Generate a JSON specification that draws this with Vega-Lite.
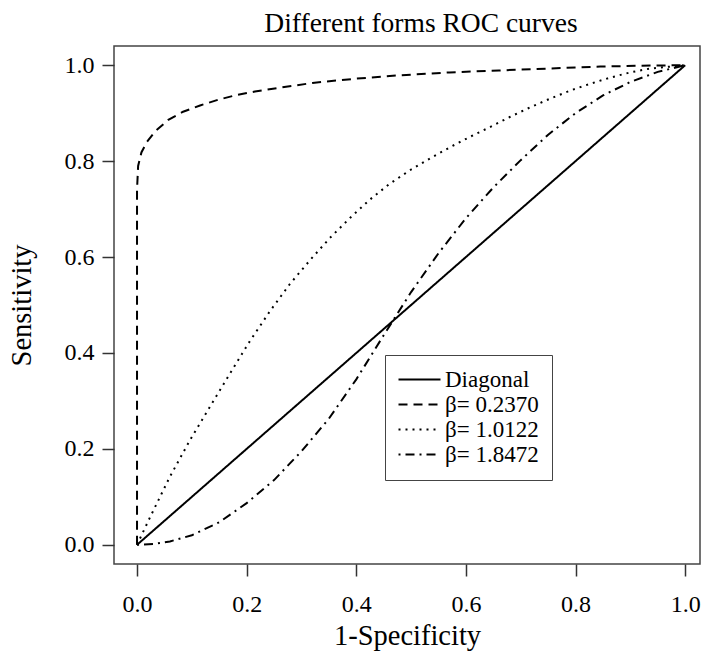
{
  "$schema": "https://vega.github.io/schema/vega-lite/v6.json",
  "autosize": {"type": "none"},
  "width": 586,
  "height": 518,
  "padding": {"left": 114, "top": 46, "right": 5, "bottom": 89},
  "background": "white",
  "title": {
    "text": "Different forms ROC curves",
    "font": "Liberation Serif",
    "fontSize": 27.5,
    "fontWeight": "normal",
    "color": "black",
    "anchor": "middle",
    "dx": 14,
    "offset": 9
  },
  "config": {
    "view": {"stroke": "#444", "strokeWidth": 1.5},
    "axis": {
      "labelFont": "Liberation Serif",
      "labelFontSize": 24,
      "labelColor": "black",
      "titleFont": "Liberation Serif",
      "titleFontSize": 28.5,
      "titleFontWeight": "normal",
      "titleColor": "black",
      "domain": false,
      "grid": false,
      "tickColor": "#333",
      "tickWidth": 1.5,
      "tickSize": 12
    }
  },
  "data": {
    "values": [
      {"series": "Diagonal", "x": 0, "y": 0},
      {"series": "Diagonal", "x": 1, "y": 1},
      {"series": "β= 0.2370", "x": 0, "y": 0},
      {"series": "β= 0.2370", "x": 0, "y": 0.74},
      {"series": "β= 0.2370", "x": 0.002, "y": 0.79},
      {"series": "β= 0.2370", "x": 0.008, "y": 0.818},
      {"series": "β= 0.2370", "x": 0.018, "y": 0.84},
      {"series": "β= 0.2370", "x": 0.033, "y": 0.862},
      {"series": "β= 0.2370", "x": 0.057, "y": 0.886},
      {"series": "β= 0.2370", "x": 0.084, "y": 0.903},
      {"series": "β= 0.2370", "x": 0.115, "y": 0.916},
      {"series": "β= 0.2370", "x": 0.148, "y": 0.928},
      {"series": "β= 0.2370", "x": 0.182, "y": 0.938},
      {"series": "β= 0.2370", "x": 0.215, "y": 0.945},
      {"series": "β= 0.2370", "x": 0.248, "y": 0.951},
      {"series": "β= 0.2370", "x": 0.285, "y": 0.957},
      {"series": "β= 0.2370", "x": 0.32, "y": 0.963},
      {"series": "β= 0.2370", "x": 0.4, "y": 0.972},
      {"series": "β= 0.2370", "x": 0.48, "y": 0.979},
      {"series": "β= 0.2370", "x": 0.57, "y": 0.985},
      {"series": "β= 0.2370", "x": 0.66, "y": 0.989},
      {"series": "β= 0.2370", "x": 0.75, "y": 0.993},
      {"series": "β= 0.2370", "x": 0.845, "y": 0.997},
      {"series": "β= 0.2370", "x": 0.92, "y": 0.999},
      {"series": "β= 0.2370", "x": 1, "y": 1},
      {"series": "β= 1.0122", "x": 0, "y": 0},
      {"series": "β= 1.0122", "x": 0.024, "y": 0.058},
      {"series": "β= 1.0122", "x": 0.06, "y": 0.142},
      {"series": "β= 1.0122", "x": 0.097, "y": 0.219},
      {"series": "β= 1.0122", "x": 0.133, "y": 0.288},
      {"series": "β= 1.0122", "x": 0.17, "y": 0.358},
      {"series": "β= 1.0122", "x": 0.206, "y": 0.425},
      {"series": "β= 1.0122", "x": 0.243, "y": 0.488},
      {"series": "β= 1.0122", "x": 0.279, "y": 0.544},
      {"series": "β= 1.0122", "x": 0.316, "y": 0.594},
      {"series": "β= 1.0122", "x": 0.352, "y": 0.64},
      {"series": "β= 1.0122", "x": 0.389, "y": 0.682},
      {"series": "β= 1.0122", "x": 0.425, "y": 0.72},
      {"series": "β= 1.0122", "x": 0.46, "y": 0.752},
      {"series": "β= 1.0122", "x": 0.498, "y": 0.781},
      {"series": "β= 1.0122", "x": 0.535, "y": 0.806},
      {"series": "β= 1.0122", "x": 0.571, "y": 0.829},
      {"series": "β= 1.0122", "x": 0.608, "y": 0.851},
      {"series": "β= 1.0122", "x": 0.644, "y": 0.871},
      {"series": "β= 1.0122", "x": 0.68, "y": 0.892},
      {"series": "β= 1.0122", "x": 0.717, "y": 0.912},
      {"series": "β= 1.0122", "x": 0.753, "y": 0.93},
      {"series": "β= 1.0122", "x": 0.79, "y": 0.947},
      {"series": "β= 1.0122", "x": 0.826, "y": 0.961},
      {"series": "β= 1.0122", "x": 0.863, "y": 0.974},
      {"series": "β= 1.0122", "x": 0.9, "y": 0.985},
      {"series": "β= 1.0122", "x": 0.936, "y": 0.993},
      {"series": "β= 1.0122", "x": 1, "y": 1},
      {"series": "β= 1.8472", "x": 0, "y": 0},
      {"series": "β= 1.8472", "x": 0.03, "y": 0.002},
      {"series": "β= 1.8472", "x": 0.06, "y": 0.007},
      {"series": "β= 1.8472", "x": 0.1, "y": 0.02},
      {"series": "β= 1.8472", "x": 0.15, "y": 0.047},
      {"series": "β= 1.8472", "x": 0.2, "y": 0.087},
      {"series": "β= 1.8472", "x": 0.25, "y": 0.135},
      {"series": "β= 1.8472", "x": 0.3, "y": 0.195},
      {"series": "β= 1.8472", "x": 0.35, "y": 0.263},
      {"series": "β= 1.8472", "x": 0.4, "y": 0.345},
      {"series": "β= 1.8472", "x": 0.45, "y": 0.437},
      {"series": "β= 1.8472", "x": 0.5, "y": 0.527},
      {"series": "β= 1.8472", "x": 0.55, "y": 0.608},
      {"series": "β= 1.8472", "x": 0.6, "y": 0.681},
      {"series": "β= 1.8472", "x": 0.65, "y": 0.745},
      {"series": "β= 1.8472", "x": 0.7, "y": 0.802},
      {"series": "β= 1.8472", "x": 0.75, "y": 0.855},
      {"series": "β= 1.8472", "x": 0.8, "y": 0.9},
      {"series": "β= 1.8472", "x": 0.85, "y": 0.937},
      {"series": "β= 1.8472", "x": 0.9, "y": 0.965},
      {"series": "β= 1.8472", "x": 0.95, "y": 0.986},
      {"series": "β= 1.8472", "x": 1, "y": 1}
    ]
  },
  "mark": {"type": "line", "color": "black", "strokeWidth": 2, "clip": true},
  "encoding": {
    "x": {
      "field": "x",
      "type": "quantitative",
      "scale": {"domain": [-0.042, 1.027], "nice": false, "zero": false},
      "axis": {
        "title": "1-Specificity",
        "values": [0, 0.2, 0.4, 0.6, 0.8, 1],
        "format": ".1f",
        "labelPadding": 16,
        "titlePadding": 5
      }
    },
    "y": {
      "field": "y",
      "type": "quantitative",
      "scale": {"domain": [-0.04, 1.04], "nice": false, "zero": false},
      "axis": {
        "title": "Sensitivity",
        "values": [0, 0.2, 0.4, 0.6, 0.8, 1],
        "format": ".1f",
        "labelPadding": 8,
        "titlePadding": 28
      }
    },
    "strokeDash": {
      "field": "series",
      "type": "nominal",
      "scale": {
        "domain": ["Diagonal", "β= 0.2370", "β= 1.0122", "β= 1.8472"],
        "range": [[1, 0], [9, 6], [2, 5], [2, 5, 9, 5]]
      },
      "legend": {
        "title": null,
        "orient": "none",
        "legendX": 271,
        "legendY": 309,
        "padding": 13,
        "strokeColor": "#444",
        "fillColor": "white",
        "labelFont": "Liberation Serif",
        "labelFontSize": 23,
        "labelColor": "black",
        "labelOffset": 14,
        "symbolOffset": 10,
        "symbolType": "M-2,0H2",
        "symbolSize": 441,
        "symbolStrokeWidth": 2,
        "symbolStrokeColor": "black",
        "symbolFillColor": "transparent",
        "rowPadding": 1
      }
    },
    "order": {"field": "x", "type": "quantitative"}
  }
}
